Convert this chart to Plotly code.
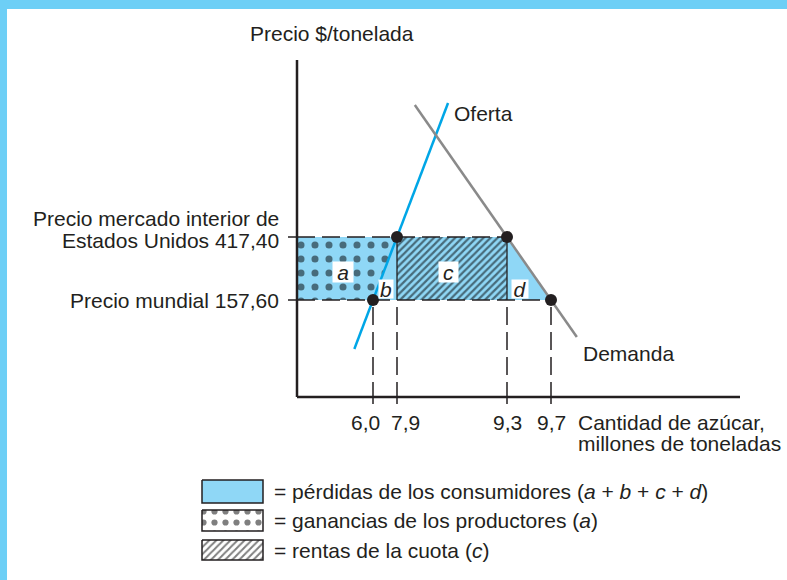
import plotly.graph_objects as go

# Datos del diagrama (cuota del azúcar en EE.UU.)
cantidades = [6.0, 7.9, 9.3, 9.7]            # millones de toneladas
cantidad_labels = ["6,0", "7,9", "9,3", "9,7"]
precios = [157.60, 417.40]                   # $/tonelada: mundial, interior
precio_labels = [["Precio mundial 157,60"],
                 ["Precio mercado interior de", "Estados Unidos 417,40"]]
letras = ["a", "b", "c", "d"]
leyenda = [
    "= pérdidas de los consumidores (<i>a</i> + <i>b</i> + <i>c</i> + <i>d</i>)",
    "= ganancias de los productores (<i>a</i>)",
    "= rentas de la cuota (<i>c</i>)",
]

# el diagrama no está a escala: posición de cada valor en el esquema (px)
esquema_x = [373, 397, 507, 551]
esquema_y = [300, 237]


def qx(q):
    return esquema_x[cantidades.index(q)]


def py(p):
    return esquema_y[precios.index(p)]


AZUL = "#8fd7f6"
MARCO = "#6dcff6"
NEGRO = "#231f20"
FUENTE = "Liberation Sans, Arial, sans-serif"
TAM = 21

p_mun, p_int = precios
q_s0, q_s1, q_d1, q_d0 = cantidades

# origen y extremos de los ejes
x0, y0 = 297, 397
x_fin, y_top = 740, 60

fig = go.Figure()


def poly(xs, ys, **kw):
    fig.add_trace(go.Scatter(x=list(xs) + [xs[0]], y=list(ys) + [ys[0]],
                             mode="lines", fill="toself", line=dict(width=0),
                             hoverinfo="skip", showlegend=False, **kw))


# a: ganancias de los productores (puntos)
poly([x0, qx(q_s1), qx(q_s0), x0], [py(p_int), py(p_int), py(p_mun), py(p_mun)],
     fillcolor=AZUL,
     fillpattern=dict(shape=".", fgcolor="#000000", bgcolor=AZUL, size=14, solidity=0.2))
# b
poly([qx(q_s1), qx(q_s1), qx(q_s0)], [py(p_int), py(p_mun), py(p_mun)], fillcolor=AZUL)
# c: rentas de la cuota (rayado)
poly([qx(q_s1), qx(q_d1), qx(q_d1), qx(q_s1)], [py(p_int), py(p_int), py(p_mun), py(p_mun)],
     fillcolor=AZUL,
     fillpattern=dict(shape="/", fgcolor="#000000", bgcolor=AZUL, size=5, solidity=0.45))
# d
poly([qx(q_d1), qx(q_d0), qx(q_d1)], [py(p_int), py(p_mun), py(p_mun)], fillcolor=AZUL)

# líneas discontinuas
dash = "18px,7px"
fig.add_trace(go.Scatter(x=[x0, qx(q_d1)], y=[py(p_int)] * 2, mode="lines",
                         line=dict(color=NEGRO, width=1.5, dash=dash),
                         hoverinfo="skip", showlegend=False))
fig.add_trace(go.Scatter(x=[x0, qx(q_d0)], y=[py(p_mun)] * 2, mode="lines",
                         line=dict(color=NEGRO, width=1.5, dash=dash),
                         hoverinfo="skip", showlegend=False))
for q in cantidades:
    fig.add_trace(go.Scatter(x=[qx(q)] * 2, y=[py(p_mun) + 7, y0], mode="lines",
                             line=dict(color=NEGRO, width=1.5, dash=dash),
                             hoverinfo="skip", showlegend=False))
for q in [q_s1, q_d1]:
    fig.add_trace(go.Scatter(x=[qx(q)] * 2, y=[py(p_int), py(p_mun)], mode="lines",
                             line=dict(color=NEGRO, width=1.3),
                             hoverinfo="skip", showlegend=False))


# oferta y demanda (rectas por los puntos de corte)
def recta(xa, ya, xb, yb, y_ini, y_fin):
    m = (xb - xa) / (yb - ya)
    return [xa + (y_ini - ya) * m, xa + (y_fin - ya) * m], [y_ini, y_fin]


sx, sy = recta(qx(q_s0), py(p_mun), qx(q_s1), py(p_int), 349, 103)
fig.add_trace(go.Scatter(x=sx, y=sy, mode="lines", line=dict(color="#00a6e6", width=2.5),
                         hoverinfo="skip", showlegend=False))
dx, dy = recta(qx(q_d1), py(p_int), qx(q_d0), py(p_mun), 105, 337)
fig.add_trace(go.Scatter(x=dx, y=dy, mode="lines", line=dict(color="#8a8a8a", width=2.5),
                         hoverinfo="skip", showlegend=False))

# puntos
fig.add_trace(go.Scatter(x=[qx(q) for q in cantidades],
                         y=[py(p_mun), py(p_int), py(p_int), py(p_mun)],
                         mode="markers", marker=dict(color=NEGRO, size=12),
                         hoverinfo="skip", showlegend=False))

# ejes
fig.add_shape(type="line", x0=x0, x1=x0, y0=y_top, y1=y0, line=dict(color=NEGRO, width=2.5))
fig.add_shape(type="line", x0=x0, x1=x_fin, y0=y0, y1=y0, line=dict(color=NEGRO, width=2.5))
for q in cantidades:
    fig.add_shape(type="line", x0=qx(q), x1=qx(q), y0=y0, y1=y0 + 7, line=dict(color=NEGRO, width=1.5))
for p in precios:
    fig.add_shape(type="line", x0=x0 - 9, x1=x0, y0=py(p), y1=py(p), line=dict(color=NEGRO, width=1.5))

# marco azul
fig.add_shape(type="rect", xref="paper", yref="paper", x0=0, x1=1, y0=1, y1=1 - 9 / 580,
              fillcolor=MARCO, line_width=0)
fig.add_shape(type="rect", xref="paper", yref="paper", x0=0, x1=7 / 787, y0=0, y1=1,
              fillcolor=MARCO, line_width=0)


def texto(x, y, t, anchor="left", size=TAM, **kw):
    fig.add_annotation(x=x, y=y, text=t, showarrow=False, xanchor=anchor, yanchor="middle",
                       font=dict(family=FUENTE, size=size, color=NEGRO), **kw)


texto(248, 33, "Precio $/tonelada")
texto(452, 113, "Oferta")
texto(581, 353, "Demanda")
texto(281, 300, precio_labels[0][0], "right")
texto(281, 218, precio_labels[1][0], "right")
texto(281, 240, precio_labels[1][1], "right")
for q, lab, sh in zip(cantidades, cantidad_labels, [-8, 8, 0, 0]):
    texto(qx(q) + sh, 422, lab, "center")
texto(576, 422, "Cantidad de azúcar,")
texto(576, 443, "millones de toneladas")

# letras de las áreas (recuadros blancos)
for (lx, ly, w, h), l in zip([(343, 272, 20, 20), (386, 289, 14, 18),
                              (448, 272, 19, 20), (520, 289, 16, 18)], letras):
    texto(lx, ly, f"<i>{l}</i>", "center", bgcolor="white", borderpad=0,
          width=w, height=h, valign="middle")

# leyenda
cajas = [(480, 503), (510, 531), (540, 560)]
estilos = [
    dict(fillcolor=AZUL),
    dict(fillcolor="white",
         fillpattern=dict(shape=".", fgcolor="#000000", bgcolor="white", size=11, solidity=0.25)),
    dict(fillcolor="white",
         fillpattern=dict(shape="/", fgcolor="#000000", bgcolor="white", size=5, solidity=0.4)),
]
for (ya, yb), est, t in zip(cajas, estilos, leyenda):
    fig.add_trace(go.Scatter(x=[202, 263, 263, 202, 202], y=[ya, ya, yb, yb, ya],
                             mode="lines", fill="toself", line=dict(color=NEGRO, width=1.5),
                             hoverinfo="skip", showlegend=False, **est))
    texto(272, (ya + yb) / 2, t)

fig.update_layout(
    width=787, height=580,
    margin=dict(l=0, r=0, t=0, b=0),
    paper_bgcolor="white", plot_bgcolor="white",
    xaxis=dict(range=[0, 787], visible=False, fixedrange=True),
    yaxis=dict(range=[580, 0], visible=False, fixedrange=True),
    showlegend=False,
)

# sin margen del <body>, para que el gráfico ocupe toda la ventana
fig.write_html("out.html", config={"displayModeBar": False},
               post_script="document.body.style.margin='0';")
